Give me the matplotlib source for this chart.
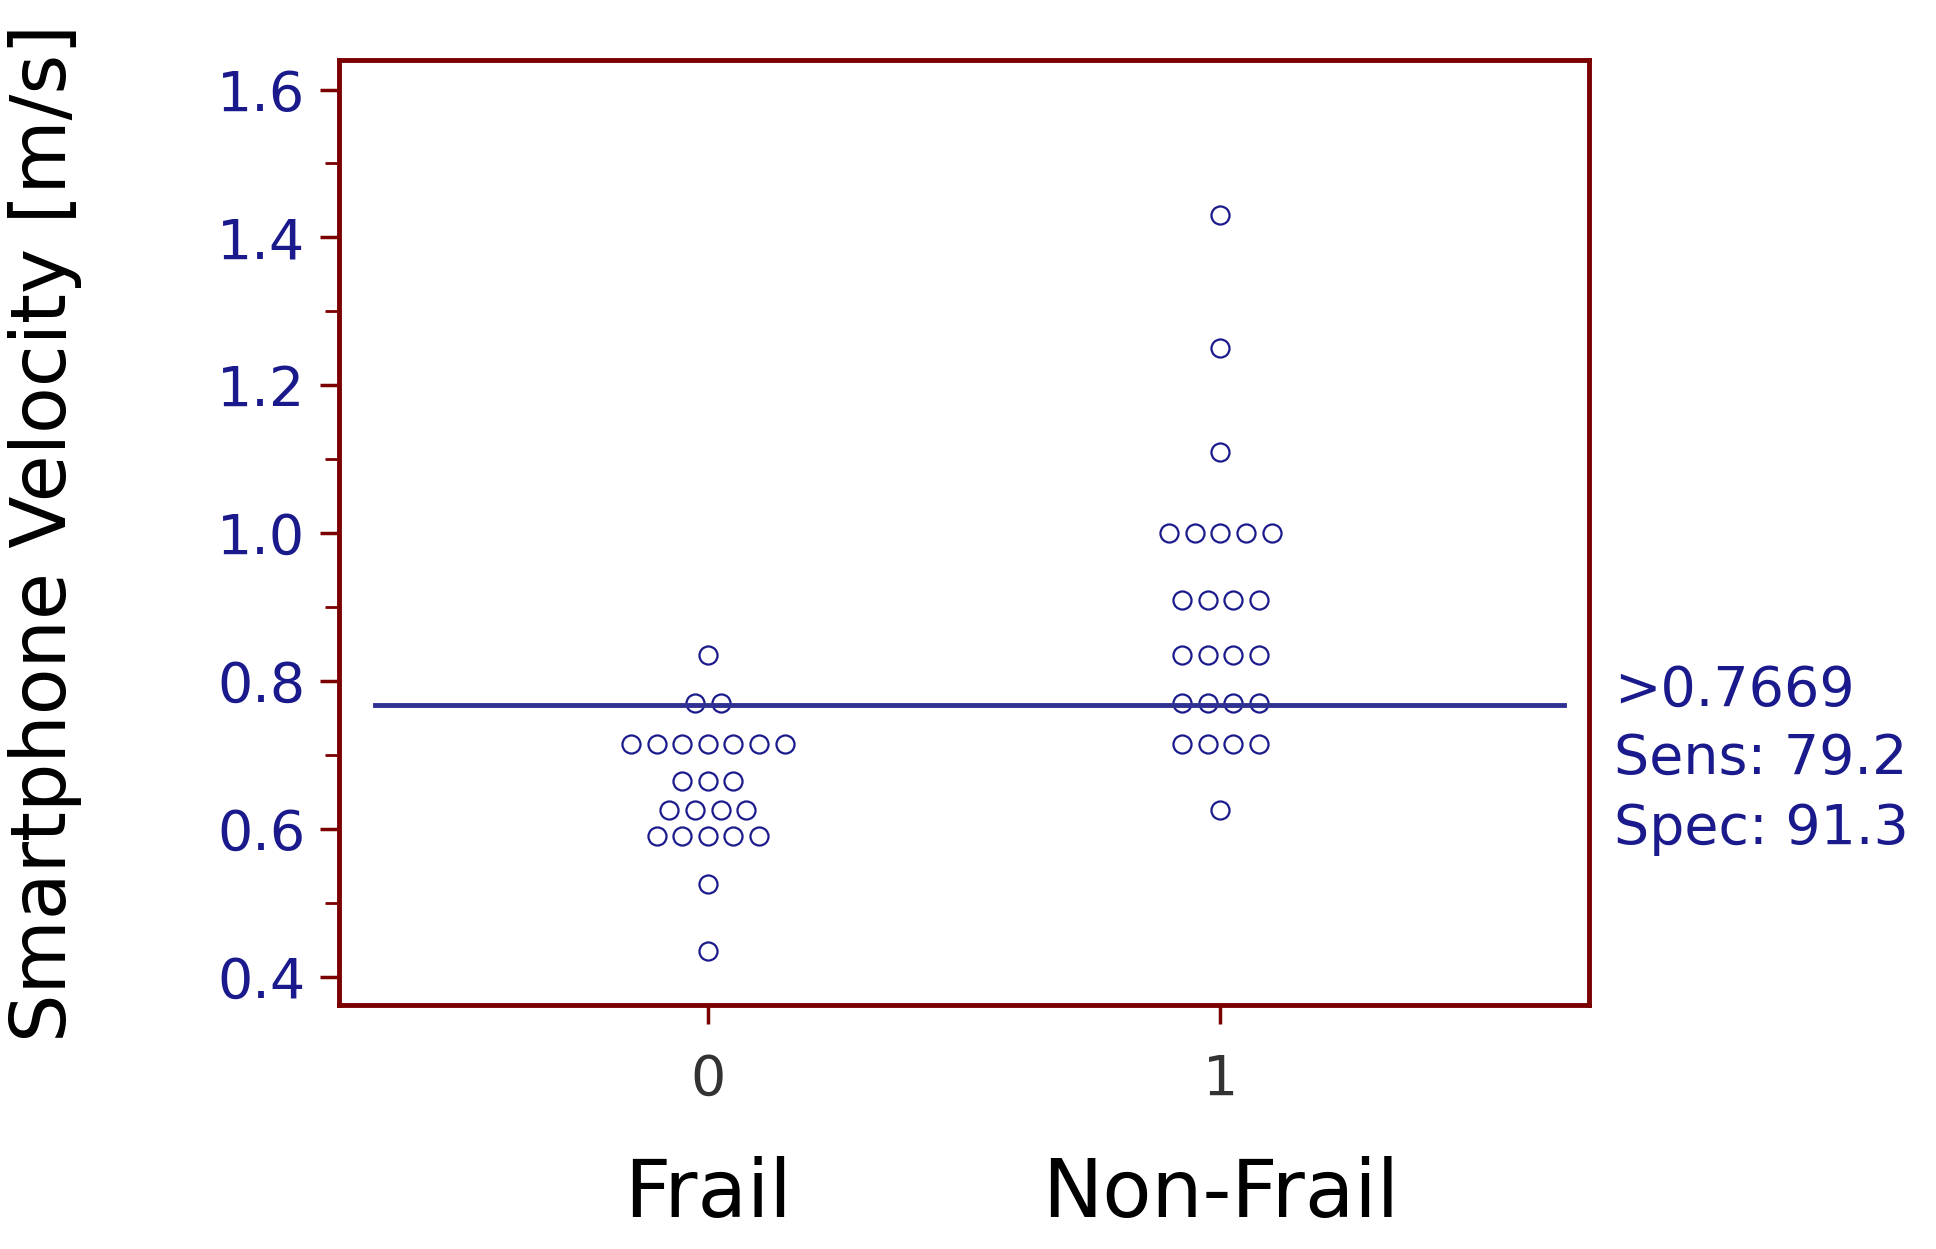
import matplotlib
matplotlib.use("Agg")
import matplotlib.pyplot as plt
import numpy as np

# values (value, count at that level)
frail_levels = [0.835, 0.77, 0.715, 0.665, 0.625, 0.59, 0.525, 0.435]
frail_counts = [1, 2, 7, 3, 4, 5, 1, 1]
nonfrail_levels = [1.43, 1.25, 1.11, 1.0, 0.91, 0.835, 0.77, 0.715, 0.625]
nonfrail_counts = [1, 1, 1, 5, 4, 4, 4, 4, 1]
cutoff = 0.7669
cutoff_text = [">0.7669", "Sens: 79.2", "Spec: 91.3"]
group_codes = ["0", "1"]
group_names = ["Frail", "Non-Frail"]

NAVY = "#1a1a8c"
LINE = "#2e3192"
RED = "#7b0000"

fig = plt.figure(figsize=(19.36, 12.49), dpi=100)
ax = fig.add_axes([0.175, 0.195, 0.646, 0.757])

def spread(x0, levels, counts, step=0.05):
    xs, ys = [], []
    for v, n in zip(levels, counts):
        for i in range(n):
            xs.append(x0 + (i - (n - 1) / 2) * step)
            ys.append(v)
    return xs, ys

for x0, lv, ct in [(0, frail_levels, frail_counts), (1, nonfrail_levels, nonfrail_counts)]:
    xs, ys = spread(x0, lv, ct)
    ax.plot(xs, ys, "o", ms=13, mfc="none", mec=NAVY, mew=1.6, ls="none")

ax.plot([-0.65, 1.67], [cutoff, cutoff], color=LINE, lw=3.5)

ax.set_xlim(-0.72, 1.72)
ax.set_ylim(0.361, 1.64)
ax.set_yticks(np.arange(0.4, 1.61, 0.2))
ax.set_yticks(np.arange(0.5, 1.61, 0.2), minor=True)
ax.set_yticklabels([f"{v:.1f}" for v in np.arange(0.4, 1.61, 0.2)])
ax.set_xticks([0, 1])
ax.set_xticklabels(group_codes)
for s in ax.spines.values():
    s.set_color(RED)
    s.set_linewidth(3.5)
ax.tick_params(axis="both", which="major", colors=RED, labelcolor=NAVY,
               labelsize=40, length=14, width=2.5, pad=10)
ax.tick_params(axis="y", which="minor", colors=RED, length=10, width=2)
ax.tick_params(axis="x", labelcolor="#333333", pad=20)

ax.set_ylabel("Smartphone Velocity [m/s]", fontsize=55)
ax.yaxis.set_label_coords(-0.205, 0.5)

for y, t in zip([0.786, 0.694, 0.600], cutoff_text):
    ax.text(1.02, y, t, transform=ax.get_yaxis_transform(), color=NAVY,
            fontsize=40, va="center", ha="left", clip_on=False)

for x0, name in zip([0, 1], group_names):
    ax.text(x0, -0.2, name, transform=ax.get_xaxis_transform(),
            fontsize=58, ha="center", va="center")

fig.savefig("out.png", dpi=100)
